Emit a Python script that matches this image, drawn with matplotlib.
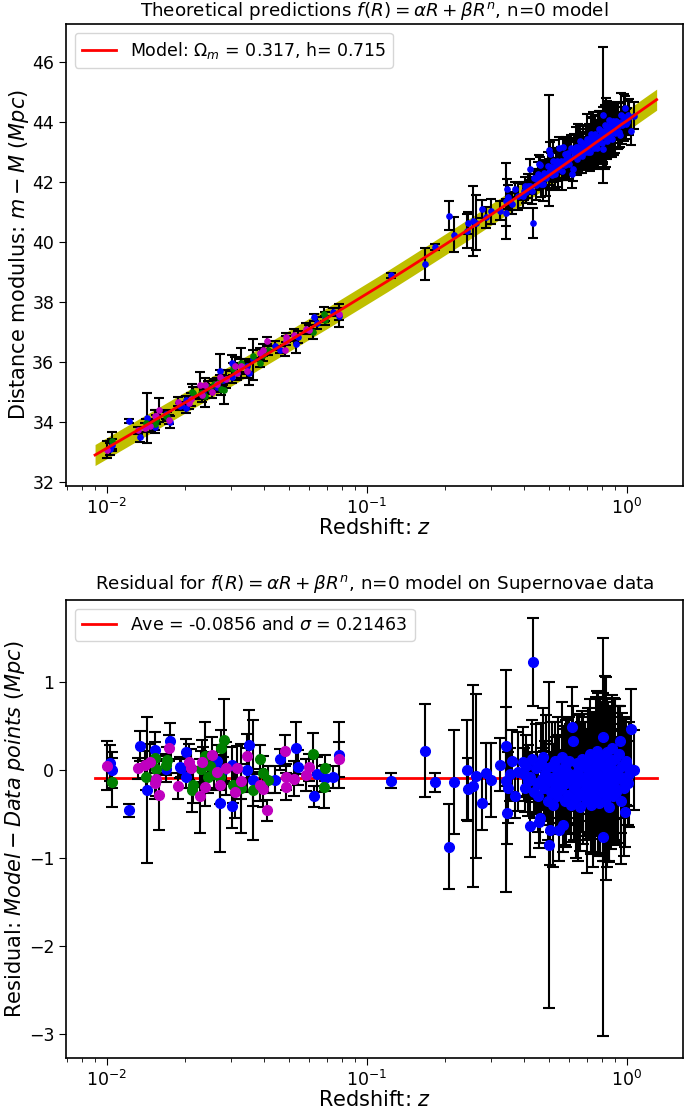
import numpy as np
import matplotlib
matplotlib.use('Agg')
import matplotlib.pyplot as plt

plt.rcParams['font.size'] = 12.5
plt.rcParams['mathtext.fontset'] = 'dejavusans'

# Model curve (Omega_m = 0.317, h = 0.715)
z_model = [0.009, 0.01, 0.015, 0.02, 0.03, 0.04, 0.05, 0.07, 0.1, 0.12, 0.15, 0.2, 0.25,
           0.3, 0.35, 0.4, 0.45, 0.5, 0.55, 0.6, 0.65, 0.7, 0.75, 0.8, 0.85, 0.9, 0.95,
           1.0, 1.05, 1.1, 1.2, 1.3]
mu_model = [32.90, 33.13, 34.02, 34.65, 35.54, 36.19, 36.69, 37.45, 38.27, 38.69, 39.22,
            39.91, 40.45, 40.90, 41.29, 41.63, 41.93, 42.20, 42.45, 42.68, 42.89, 43.08,
            43.27, 43.44, 43.60, 43.75, 43.90, 44.03, 44.16, 44.29, 44.52, 44.73]
band_half = 0.35

res_ave = -0.0856
res_sigma = 0.21463

# Low-redshift sample, blue
z_blue = [0.0103, 0.0105, 0.0122, 0.0134, 0.0143, 0.0153, 0.0168, 0.0174, 0.0193, 0.0201,
          0.0201, 0.0235, 0.0266, 0.0272, 0.0302, 0.0302, 0.0353, 0.0345, 0.0365, 0.0443,
          0.0463, 0.0533, 0.0541, 0.0625, 0.0640, 0.0688, 0.0739, 0.0782, 0.0280, 0.0191]
mu_blue = [33.11, 33.24, 34.02, 33.50, 34.14, 33.83, 34.26, 34.01, 34.55, 34.46,
           34.74, 34.95, 35.18, 35.71, 35.50, 35.97, 35.63, 35.86, 36.09, 36.53,
           36.40, 36.58, 36.84, 37.49, 37.30, 37.50, 37.66, 37.54, 35.39, 34.52]
res_blue = [0.08, 0.00, -0.46, 0.27, -0.23, 0.23, 0.01, 0.33, 0.02, 0.20,
            -0.08, 0.06, 0.10, -0.38, 0.06, -0.41, 0.28, 0.00, -0.11, -0.11,
            0.12, 0.25, 0.03, -0.30, -0.05, -0.09, -0.08, 0.17, 0.00, 0.03]
err_blue = [0.20, 0.20, 0.07, 0.17, 0.83, 0.20, 0.15, 0.20, 0.10, 0.15,
            0.12, 0.20, 0.18, 0.55, 0.20, 0.25, 0.40, 0.25, 0.68, 0.15,
            0.12, 0.30, 0.20, 0.12, 0.20, 0.15, 0.12, 0.38, 0.15, 0.12]

# Low-redshift sample, green
z_green = [0.0105, 0.0141, 0.0153, 0.0155, 0.0170, 0.0168, 0.0215, 0.0212, 0.0230, 0.0238,
           0.0245, 0.0272, 0.0282, 0.0275, 0.0305, 0.0329, 0.0365, 0.0387, 0.0399, 0.0417,
           0.0620, 0.0682, 0.0688, 0.0258, 0.0250]
mu_green = [33.38, 33.96, 33.92, 34.08, 34.18, 34.21, 34.98, 35.01, 34.95, 34.88,
            35.18, 35.41, 35.07, 35.10, 35.75, 35.96, 36.21, 35.98, 36.22, 36.39,
            37.00, 37.58, 37.39, 35.26, 35.09]
res_green = [-0.14, -0.08, 0.14, 0.01, 0.11, 0.06, -0.17, -0.23, 0.01, 0.16,
             -0.08, -0.08, 0.34, 0.25, -0.17, -0.21, -0.23, 0.13, -0.04, -0.11,
             0.18, -0.19, 0.02, -0.05, 0.05]
err_green = [0.28, 0.15, 0.18, 0.15, 0.15, 0.12, 0.20, 0.25, 0.20, 0.39,
             0.18, 0.15, 0.47, 0.20, 0.20, 0.50, 0.18, 0.15, 0.20, 0.15,
             0.24, 0.24, 0.15, 0.18, 0.15]

# Low-redshift sample, magenta
z_mag = [0.0100, 0.0132, 0.0140, 0.0146, 0.0155, 0.0153, 0.0158, 0.0173, 0.0187, 0.0207,
         0.0211, 0.0228, 0.0233, 0.0238, 0.0253, 0.0264, 0.0273, 0.0288, 0.0315, 0.0310,
         0.0329, 0.0345, 0.0387, 0.0399, 0.0412, 0.0483, 0.0488, 0.0488, 0.0525, 0.0584,
         0.0599, 0.0782]
mu_mag = [33.08, 33.72, 33.81, 33.87, 34.19, 34.21, 34.41, 34.08, 34.68, 34.64,
          34.75, 35.24, 34.90, 35.23, 35.00, 35.28, 35.51, 35.44, 35.64, 35.87,
          35.88, 35.70, 36.28, 36.40, 36.71, 36.39, 36.71, 36.82, 36.90, 37.10,
          37.07, 37.59]
res_mag = [0.05, 0.02, 0.06, 0.09, -0.10, -0.15, -0.28, 0.25, -0.18, 0.09,
           0.02, -0.30, 0.09, -0.19, 0.17, -0.02, -0.17, 0.02, 0.02, -0.25,
           -0.13, 0.16, -0.17, -0.22, -0.46, 0.22, -0.08, -0.19, -0.10, -0.06,
           0.03, 0.12]
err_mag = [0.28, 0.12, 0.15, 0.20, 0.20, 0.18, 0.40, 0.15, 0.15, 0.20,
           0.22, 0.42, 0.25, 0.22, 0.20, 0.18, 0.22, 0.30, 0.25, 0.30,
           0.20, 0.25, 0.18, 0.20, 0.12, 0.18, 0.15, 0.15, 0.20, 0.18,
           0.15, 0.20]

# High-redshift sample (blue)
z_high = [0.1234, 0.1669, 0.183, 0.2068, 0.2163, 0.2415, 0.245, 0.256, 0.262, 0.2757,
          0.2857, 0.2997, 0.3237, 0.3427, 0.343, 0.345, 0.35, 0.355, 0.36, 0.372,
          0.38, 0.397,
          0.40, 0.405, 0.41, 0.415, 0.4226, 0.425, 0.43, 0.4365, 0.44, 0.445,
          0.45, 0.455, 0.46, 0.462, 0.465, 0.47, 0.475, 0.48, 0.485, 0.49,
          0.495, 0.50, 0.50, 0.505,
          0.51, 0.515, 0.52, 0.525, 0.53, 0.535, 0.54, 0.545, 0.55, 0.55,
          0.555, 0.56, 0.565, 0.57, 0.575, 0.58, 0.585, 0.59, 0.595, 0.60,
          0.605, 0.61, 0.615, 0.62, 0.625, 0.63, 0.635, 0.64, 0.645, 0.65,
          0.655, 0.66, 0.665, 0.67, 0.675, 0.68, 0.69, 0.695, 0.70,
          0.705, 0.71, 0.715, 0.72, 0.725, 0.73, 0.735, 0.74, 0.745, 0.75,
          0.755, 0.76, 0.765, 0.77, 0.775, 0.78, 0.785, 0.79, 0.795,
          0.80, 0.805, 0.81, 0.81, 0.815, 0.82, 0.825, 0.83, 0.835, 0.84,
          0.845, 0.85, 0.855, 0.86, 0.865, 0.87, 0.875, 0.88, 0.885, 0.89, 0.895,
          0.90, 0.91, 0.92, 0.93, 0.94, 0.945, 0.95, 0.96, 0.97, 0.98,
          0.99, 1.00, 1.01, 1.02, 1.04, 1.06]
mu_high = [38.88, 39.26, 39.83, 40.86, 40.24, 40.36, 40.62, 40.69, 40.64, 41.08,
           40.82, 41.01, 41.04, 40.96, 41.36, 41.74, 41.49, 41.37, 41.26, 41.74,
           41.51, 41.52,
           41.68, 41.86, 41.64, 41.84, 42.41, 41.86, 41.69, 40.62, 42.12, 41.88,
           42.08, 42.26, 42.58, 42.55, 41.93, 42.14, 41.92, 42.29, 42.17, 42.13,
           42.53, 43.05, 42.32, 42.91,
           42.50, 42.23, 42.70, 42.41, 42.25, 42.56, 42.70, 42.43, 43.13, 42.55,
           42.69, 42.35, 43.15, 42.59, 42.92, 42.54, 42.76, 42.65, 42.94, 42.58,
           42.80, 43.12, 42.25, 42.43, 42.98, 42.86, 43.15, 42.77, 43.02, 43.14,
           42.89, 43.35, 43.03, 42.85, 43.29, 43.13, 43.00, 43.27, 43.43,
           43.00, 43.17, 43.42, 42.98, 43.33, 43.59, 43.21, 43.45, 43.13, 43.37,
           43.60, 43.25, 43.50, 43.11, 43.40, 43.75, 43.31, 43.52, 43.67,
           43.29, 43.53, 44.23, 43.10, 43.69, 43.48, 43.87, 43.64, 43.35, 43.85,
           43.53, 43.75, 44.04, 43.53, 43.70, 43.88, 43.43, 43.81, 44.01, 43.72, 43.92,
           43.63, 44.03, 43.86, 43.66, 43.54, 44.23, 44.00, 43.87, 44.15, 44.46,
           43.91, 43.99, 44.21, 44.14, 43.67, 44.19]
res_high = [-0.12, 0.22, -0.14, -0.87, -0.14, 0.00, -0.22, -0.18, -0.07, -0.38,
            -0.04, -0.11, 0.06, 0.27, -0.12, -0.49, -0.20, -0.05, 0.10, -0.30,
            -0.02, 0.09,
            -0.05, -0.20, 0.05, -0.12, -0.64, -0.08, 0.12, 1.23, -0.25, 0.02,
            -0.15, -0.30, -0.59, -0.55, 0.08, -0.10, 0.15, -0.20, -0.05, 0.02,
            -0.35, -0.85, -0.12, -0.68,
            -0.25, 0.05, -0.40, -0.08, 0.10, -0.18, -0.30, 0.00, -0.68, -0.10,
            -0.22, 0.15, -0.63, -0.05, -0.35, 0.05, -0.15, -0.02, -0.28, 0.10,
            -0.10, -0.40, 0.49, 0.33, -0.20, -0.05, -0.32, 0.08, -0.15, -0.25,
            0.02, -0.42, -0.08, 0.12, -0.30, -0.12, 0.05, -0.20, -0.35,
            0.10, -0.05, -0.28, 0.18, -0.15, -0.40, 0.00, -0.22, 0.12, -0.10,
            -0.32, 0.05, -0.18, 0.22, -0.05, -0.38, 0.08, -0.12, -0.25,
            0.15, -0.08, -0.76, 0.37, -0.20, 0.02, -0.35, -0.10, 0.20, -0.28,
            0.05, -0.15, -0.42, 0.10, -0.05, -0.22, 0.25, -0.12, -0.30, 0.00, -0.18,
            0.12, -0.25, -0.05, 0.18, 0.33, -0.35, -0.10, 0.05, -0.20, -0.48,
            0.10, 0.04, -0.15, -0.05, 0.47, 0.00]
err_high = [0.08, 0.53, 0.11, 0.48, 0.59, 0.57, 0.36, 1.15, 0.93, 0.30,
            0.35, 0.42, 0.30, 0.45, 1.26, 0.35, 0.40, 0.30, 0.35, 0.25,
            0.45, 0.40,
            0.30, 0.28, 0.35, 0.40, 0.35, 0.28, 0.45, 0.50, 0.30, 0.50,
            0.35, 0.40, 0.30, 0.28, 0.45, 0.35, 0.55, 0.42, 0.38, 0.60,
            0.45, 1.85, 0.42, 0.40,
            0.45, 0.50, 0.70, 0.38, 0.45, 0.55, 0.42, 0.60, 0.35, 0.50,
            0.45, 0.62, 0.30, 0.55, 0.50, 0.42, 0.72, 0.60, 0.45, 0.50,
            0.62, 0.42, 0.45, 0.40, 0.60, 0.50, 0.68, 0.55, 0.45, 0.78,
            0.60, 0.50, 0.62, 0.55, 0.45, 0.72, 0.50, 0.60, 0.82,
            0.60, 0.68, 0.50, 0.62, 0.78, 0.55, 0.60, 0.88, 0.50, 0.68,
            0.62, 0.78, 0.55, 0.68, 0.92, 0.60, 0.72, 0.82, 0.50,
            0.62, 0.95, 2.26, 0.45, 0.78, 1.05, 0.68, 1.15, 0.60, 0.82,
            0.72, 0.88, 0.62, 0.55, 0.78, 0.68, 0.60, 0.72, 0.50, 0.82, 0.62,
            0.68, 0.60, 0.78, 0.55, 0.40, 0.72, 0.62, 0.60, 0.78, 0.40,
            0.50, 0.45, 0.48, 0.60, 0.45, 0.45]

samples = [
    (z_blue, mu_blue, res_blue, err_blue, 'b'),
    (z_green, mu_green, res_green, err_green, 'g'),
    (z_mag, mu_mag, res_mag, err_mag, 'm'),
    (z_high, mu_high, res_high, err_high, 'b'),
]

fig = plt.figure(figsize=(6.85, 11.09), dpi=100)
ax1 = fig.add_axes([0.0964, 0.5618, 0.9007, 0.4166])
ax2 = fig.add_axes([0.0964, 0.0460, 0.9007, 0.4130])

# Top panel: distance modulus
zm = np.array(z_model)
mm = np.array(mu_model)
ax1.fill_between(zm, mm - band_half, mm + band_half, color='y', lw=0)
for z, mu, res, err, col in samples:
    ax1.errorbar(z, mu, yerr=err, fmt='o', color=col, ecolor='k', ms=3.8,
                 elinewidth=1.5, capsize=3.5, capthick=1.5, zorder=3)
ax1.plot(zm, mm, color='r', lw=2, zorder=4,
         label=r'Model: $\Omega_m$ = 0.317, h= 0.715')
ax1.set_xscale('log')
ax1.set_xlim(0.00696, 1.642)
ax1.set_ylim(31.87, 47.25)
ax1.set_yticks([32, 34, 36, 38, 40, 42, 44, 46])
ax1.set_xlabel(r'Redshift: $z$', fontsize=15, labelpad=0)
ax1.set_ylabel(r'Distance modulus: $m - M$ $(Mpc)$', fontsize=15, labelpad=1)
ax1.set_title(r'Theoretical predictions $f(R) = \alpha R + \beta R^n$, n=0 model',
              fontsize=13.2, pad=6)
ax1.legend(loc='upper left')

# Bottom panel: residuals
ax2.plot([z_model[0], z_model[-1]], [res_ave, res_ave], color='r', lw=2,
         label=r'Ave = -0.0856 and $\sigma$ = 0.21463')
for z, mu, res, err, col in samples:
    ax2.errorbar(z, res, yerr=err, fmt='o', color=col, ecolor='k', ms=7,
                 elinewidth=1.5, capsize=4, capthick=1.5)
ax2.set_xscale('log')
ax2.set_xlim(0.00696, 1.642)
ax2.set_ylim(-3.27, 1.93)
ax2.set_xlabel(r'Redshift: $z$', fontsize=15, labelpad=0)
ax2.set_ylabel(r'Residual: $Model - Data\ points$ $(Mpc)$', fontsize=15, labelpad=1)
ax2.set_title(r'Residual for $f(R) = \alpha R + \beta R^n$, n=0 model on Supernovae data',
              fontsize=13.2, pad=8)
ax2.legend(loc='upper left')

for ax in (ax1, ax2):
    ax.tick_params(which='major', length=5)
    ax.tick_params(which='minor', length=3)
    for s in ax.spines.values():
        s.set_linewidth(1.2)

plt.savefig('out.png', dpi=100)
